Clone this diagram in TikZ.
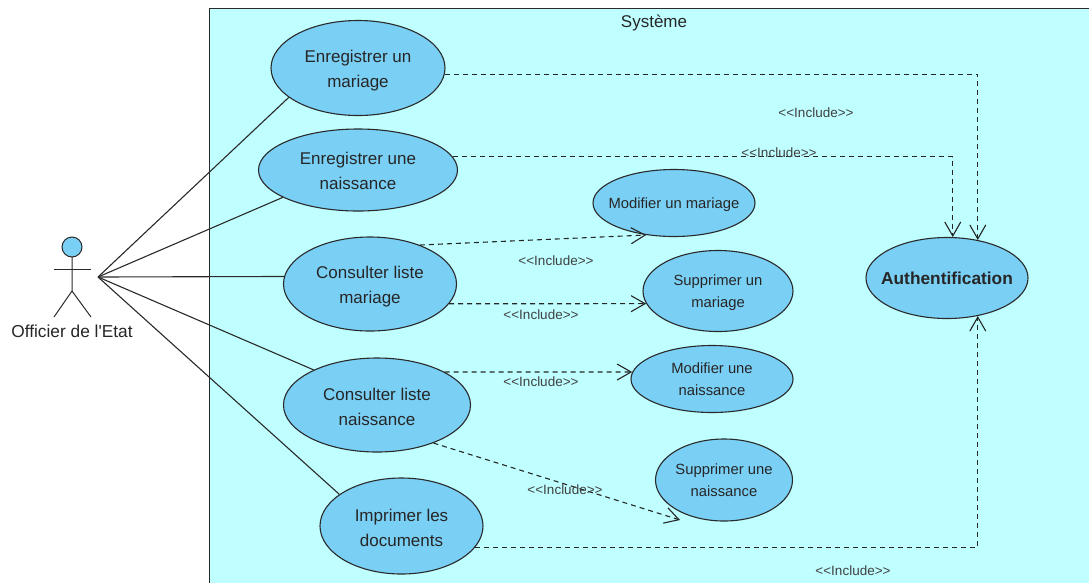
\documentclass[tikz,border=0pt]{standalone}
\usepackage{fontspec}
\setmainfont{Liberation Sans}
\usetikzlibrary{shapes.geometric, arrows.meta, positioning}
\definecolor{sysfill}{HTML}{BFFFFF}
\definecolor{casefill}{HTML}{7ACFF5}
\definecolor{edgegray}{HTML}{2A2A2A}
\tikzset{
    usecase/.style={ellipse, draw=edgegray, fill=casefill, line width=1.1pt, inner xsep=-25pt, inner ysep=-10pt, align=center, text=black!85},
    bigcase/.style={usecase, font=\fontsize{17}{25}\selectfont},
    smallcase/.style={usecase, font=\fontsize{14.8}{21.5}\selectfont},
    pushtext/.style={execute at begin node={\rule{0pt}{#1}}},
    assoc/.style={edgegray, line width=1.1pt},
    includeline/.style={black!85, line width=1.1pt, dash pattern=on 5pt off 4pt, -{Straight Barb[length=14pt, width=16pt, line width=1.1pt]}},
    includelabel/.style={font=\fontsize{13.5}{14}\selectfont, text=black!75, inner sep=0pt}
}
\begin{document}
\begin{tikzpicture}[x=1pt, y=-1pt]
            \useasboundingbox (0,0) rectangle (1089,582);

            % Draw system boundary
            \draw[fill=sysfill, draw=edgegray, line width=1pt] (209,8) rectangle (1095,590);
            \node[font=\fontsize{17}{18}\selectfont, text=black!85] (sysTitle) at (654,23) {Système};

            % Draw actor
            \filldraw[fill=casefill, draw=edgegray, line width=1pt] (72,247) circle (10);
            \draw[edgegray, line width=1pt] (72,257) -- (72,291) -- (54,317);
            \draw[edgegray, line width=1pt] (72,291) -- (91,317);
            \draw[edgegray, line width=1pt] (54,269) -- (91,269);
            \node[font=\fontsize{17.3}{18}\selectfont, text=black!85] (actorName) at (72,331) {Officier de l\textquotesingle Etat};
            \coordinate (actorHub) at (98,277);

            % Draw use cases
            \node[bigcase, pushtext=43.4pt, minimum width=174pt, minimum height=95pt] (enrMariage) at (358,68) {Enregistrer un\\mariage};
            \node[bigcase, pushtext=39.4pt, minimum width=199pt, minimum height=82pt] (enrNaissance) at (358,170) {Enregistrer une\\naissance};
            \node[bigcase, pushtext=43.4pt, minimum width=173pt, minimum height=94pt] (consMariage) at (370,284) {Consulter liste\\mariage};
            \node[bigcase, pushtext=40.4pt, minimum width=187pt, minimum height=94pt] (consNaissance) at (377,405) {Consulter liste\\naissance};
            \node[bigcase, pushtext=41.4pt, minimum width=163pt, minimum height=96pt] (imprimer) at (401.5,526) {Imprimer les\\documents};
            \node[smallcase, pushtext=14.8pt, minimum width=162pt, minimum height=67pt] (modMariage) at (674,203) {Modifier un mariage};
            \node[smallcase, pushtext=36pt, minimum width=150pt, minimum height=81pt] (supMariage) at (718,291) {Supprimer un\\mariage};
            \node[smallcase, minimum width=162pt, minimum height=67pt] (modNaissance) at (712,379) {Modifier une\\naissance};
            \node[smallcase, minimum width=137pt, minimum height=82pt] (supNaissance) at (724,480) {Supprimer une\\naissance};
            \node[usecase, font=\fontsize{17.3}{20}\selectfont\bfseries, minimum width=162pt, minimum height=81pt] (auth) at (947,278) {Authentification};

            % Draw associations
            \draw[assoc] (actorHub) -- (enrMariage.203.8);
            \draw[assoc] (actorHub) -- (enrNaissance.200.3);
            \draw[assoc] (actorHub) -- (consMariage.175);
            \draw[assoc] (actorHub) -- (consNaissance.151.3);
            \draw[assoc] (actorHub) -- (imprimer.153.4);

            % Draw include relations
            \coordinate (supNaissanceTip) at (680,520);
            \draw[includeline] (enrMariage.-4.5) -| (auth.51);
            \draw[includeline] (enrNaissance.8.4) -| (auth.82);
            \draw[includeline] (imprimer.-16.5) -| (auth.-51);
            \draw[includeline] (consMariage.38) -- (modMariage.229.5);
            \draw[includeline] (consMariage.-14) -- (supMariage.190.5);
            \draw[includeline] (consNaissance.26.6) -- (modNaissance.175);
            \draw[includeline] (consNaissance.-34.6) -- (supNaissanceTip);

            % Draw include labels
            \node[includelabel] (incA) at (816,113) {<{}<Include>{}>};
            \node[includelabel] (incB) at (779,153) {<{}<Include>{}>};
            \node[includelabel] (incC) at (556,261) {<{}<Include>{}>};
            \node[includelabel] (incD) at (541,315) {<{}<Include>{}>};
            \node[includelabel] (incE) at (541,382) {<{}<Include>{}>};
            \node[includelabel] (incF) at (565,490) {<{}<Include>{}>};
            \node[includelabel] (incG) at (853,571) {<{}<Include>{}>};
\end{tikzpicture}
\end{document}
